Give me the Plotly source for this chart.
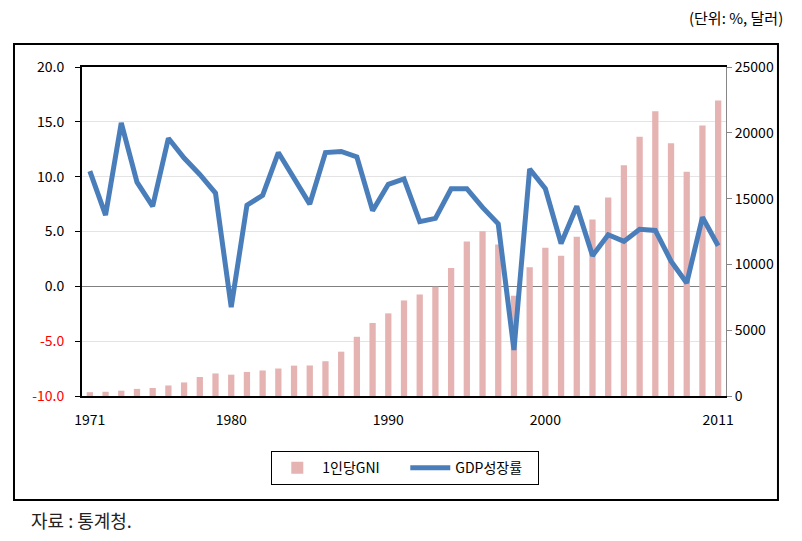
import plotly.graph_objects as go

years = list(range(1971, 2012))
gni = [291, 323, 405, 540, 611, 800, 1030, 1443, 1713, 1620, 1830, 1940, 2090, 2307,
       2320, 2643, 3368, 4500, 5550, 6280, 7260, 7714, 8300, 9727, 11735, 12518,
       11505, 7620, 9778, 11260, 10655, 12100, 13420, 15082, 17531, 19691, 21632,
       19200, 17041, 20562, 22451]
gdp = [10.5, 6.5, 14.9, 9.5, 7.3, 13.5, 11.7, 10.2, 8.5, -1.9, 7.4, 8.3, 12.2, 9.9,
       7.5, 12.2, 12.3, 11.8, 6.9, 9.3, 9.8, 5.9, 6.2, 8.9, 8.9, 7.2, 5.7, -5.8,
       10.7, 8.9, 3.9, 7.3, 2.8, 4.7, 4.1, 5.2, 5.1, 2.3, 0.3, 6.3, 3.7]

left_vals = [20, 15, 10, 5, 0, -5, -10]
left_text = ["20.0", "15.0", "10.0", "5.0", "0.0",
             "<span style='color:#FF0000'>-5.0</span>",
             "<span style='color:#FF0000'>-10.0</span>"]
right_vals = [0, 5000, 10000, 15000, 20000, 25000]
right_text = ["0", "5000", "10000", "15000", "20000", "25000"]
x_ticks = [1971, 1980, 1990, 2000, 2011]

FONT = "Noto Sans CJK KR"

fig = go.Figure()
fig.add_trace(go.Bar(x=years, y=gni, name="1인당GNI", marker_color="#E6B3B3",
                     marker_line_width=0, yaxis="y"))
fig.add_trace(go.Scatter(x=years, y=gdp, name="GDP성장률", mode="lines",
                         line=dict(color="#4A7EBB", width=5), yaxis="y2"))

# page body has an 8px margin, so the figure is drawn 8px smaller and offset
fig.update_layout(
    width=794, height=533,
    margin=dict(l=74, r=76, t=59, b=145),
    paper_bgcolor="white", plot_bgcolor="white",
    font=dict(family=FONT, size=14, color="black"),
    bargap=0.6,
    showlegend=True,
    legend=dict(orientation="h", x=0.502, xanchor="center", y=-0.168, yanchor="top",
                bordercolor="black", borderwidth=1, font=dict(size=14, family=FONT),
                entrywidth=78, itemwidth=40, tracegroupgap=0, traceorder="normal"),
    xaxis=dict(range=[1970.5, 2011.5], tickmode="array", tickvals=x_ticks,
               ticktext=[str(v) for v in x_ticks], showline=True, linecolor="black",
               linewidth=2, mirror=True, ticks="", showgrid=False, zeroline=False,
               ticklabelstandoff=10, tickfont=dict(size=14)),
    yaxis=dict(side="right", range=[0, 25000], tickmode="array", tickvals=right_vals,
               ticktext=right_text, showline=True, linecolor="#868686", linewidth=1,
               ticks="outside", ticklen=5, tickcolor="#868686", showgrid=False,
               zeroline=False, tickfont=dict(size=14)),
    yaxis2=dict(overlaying="y", side="left", range=[-10, 20], tickmode="array",
                tickvals=left_vals, ticktext=left_text, showline=True, linecolor="black",
                linewidth=2, ticks="outside", ticklen=5, tickcolor="black",
                showgrid=True, gridcolor="#E4E4E4", gridwidth=1,
                zeroline=True, zerolinecolor="#808080", zerolinewidth=1,
                ticklabelstandoff=8, tickfont=dict(size=14)),
)

# outer frame
fig.add_shape(type="rect", xref="paper", yref="paper",
              x0=-0.1056, x1=1.0807, y0=-0.316, y1=1.0699,
              line=dict(color="black", width=2), fillcolor="rgba(0,0,0,0)")

fig.add_annotation(text="(단위: %, 달러)", xref="paper", yref="paper",
                   x=1.0916, y=1.149, xanchor="right", yanchor="middle",
                   showarrow=False, font=dict(size=15, family=FONT))
fig.add_annotation(text="자료 : 통계청.", xref="paper", yref="paper",
                   x=-0.083, y=-0.377, xanchor="left", yanchor="middle",
                   showarrow=False, font=dict(size=18, family=FONT, color="#222222"))

fig.write_html("out.html")
